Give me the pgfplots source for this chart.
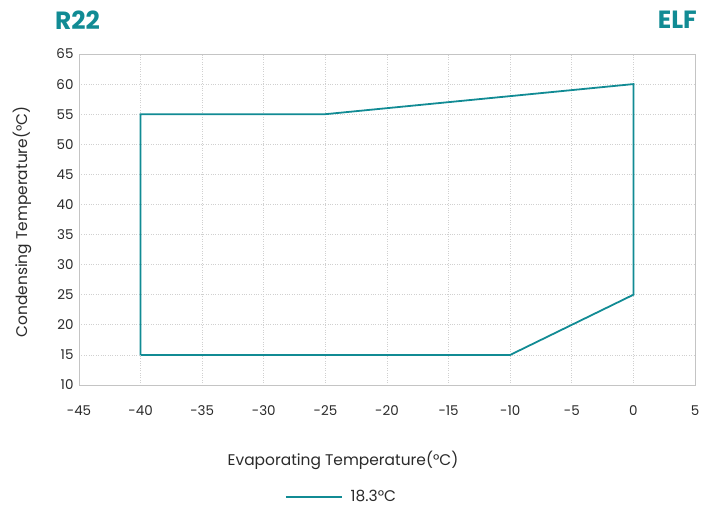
\documentclass[border=0pt]{standalone}
\usepackage{fontspec}
\setmainfont{Poppins}
\usepackage{pgfplots}
\pgfplotsset{compat=1.18}
\definecolor{teal1}{HTML}{118B94}
\definecolor{gridc}{HTML}{D0D0D0}
\definecolor{framec}{HTML}{C4C4C4}
\definecolor{txt}{HTML}{2A2A2A}
\begin{document}
\begin{tikzpicture}[x=1bp,y=1bp]
\useasboundingbox (-79,-123) rectangle (645,385);
\begin{axis}[
  at={(0,0)}, anchor=south west,
  scale only axis, width=616bp, height=331bp,
  xmin=-45, xmax=5, ymin=10, ymax=65,
  xtick={-45,-40,...,5}, ytick={10,15,...,65},
  xticklabels={-45,-40,-35,-30,-25,-20,-15,-10,-5,0,5},
  grid=major,
  major grid style={gridc, dotted, line width=0.8pt},
  axis line style={framec, line width=0.8pt},
  major tick length=0pt,
  tick label style={font=\fontsize{13.5}{15}\selectfont, text=txt},
  /pgf/number format/assume math mode=true,
  xticklabel style={yshift=-17bp},
  yticklabel style={xshift=-2bp},
  clip=false,
  legend style={at={(0.334,-0.338)}, anchor=west, draw=none, fill=none,
    font=\fontsize{15.5}{17}\selectfont, text=txt, inner sep=0pt,
    legend columns=1},
  legend image code/.code={\draw[#1] (0bp,0bp) -- (56bp,0bp); \path (62bp,0bp);},
]
\addplot[teal1, line width=1.8pt] coordinates {
(-40,15) (-40,55) (-25,55) (0,60) (0,25) (-10,15) (-40,15)
};
\addlegendentry{18.3°C}
\end{axis}
\node[text=txt, font=\fontsize{15.5}{18}\selectfont] at (264,-75) {Evaporating Temperature(°C)};
\node[text=txt, font=\fontsize{15.5}{18}\selectfont, rotate=90] at (-57,163) {Condensing Temperature(°C)};
\node[text=teal1, font=\fontsize{25}{28}\bfseries\selectfont, anchor=west, inner sep=0pt] at (-24,365) {R22};
\node[text=teal1, font=\fontsize{25}{28}\bfseries\selectfont, anchor=east, inner sep=0pt] at (618,365) {ELF};
\end{tikzpicture}
\end{document}
